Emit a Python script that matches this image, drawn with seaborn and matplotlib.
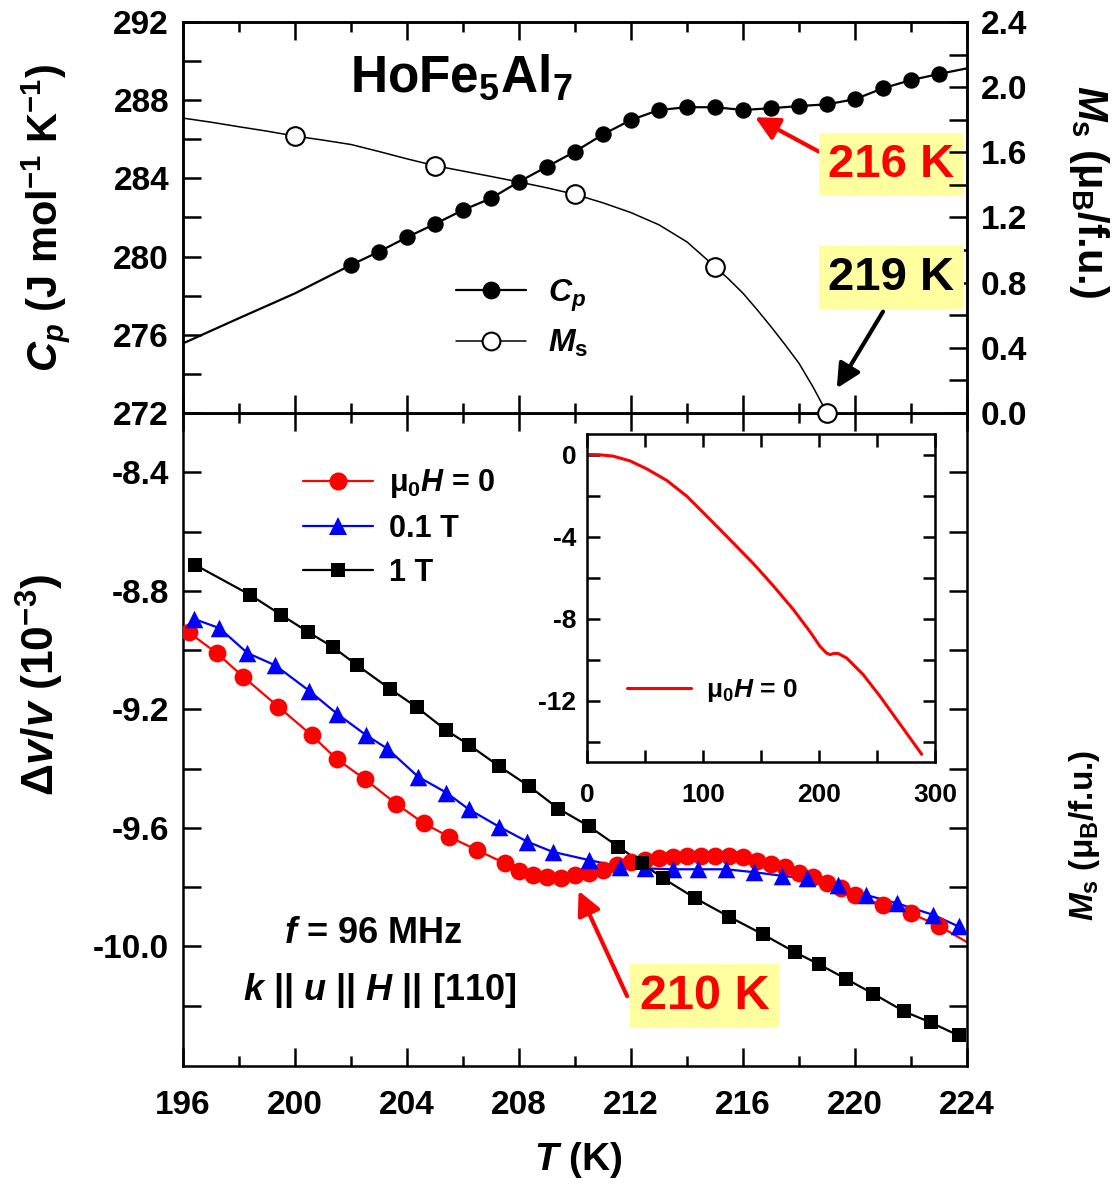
import matplotlib
matplotlib.use("Agg")
import matplotlib.pyplot as plt
import seaborn as sns
from matplotlib.lines import Line2D
from matplotlib.ticker import MultipleLocator, FixedLocator

# ---------------- data ----------------
# top panel: specific heat
cp_T = [202, 203, 204, 205, 206, 207, 208, 209, 210, 211, 212, 213, 214, 215,
        216, 217, 218, 219, 220, 221, 222, 223]
cp_val = [279.57, 280.25, 280.99, 281.67, 282.38, 282.98, 283.83, 284.60, 285.37,
          286.25, 286.99, 287.50, 287.64, 287.64, 287.50, 287.59, 287.70, 287.79,
          288.05, 288.61, 289.03, 289.34]
cp_lead_T = [196, 198, 200]
cp_lead_val = [275.56, 276.85, 278.12]
cp_tail_T = [224]
cp_tail_val = [289.63]

# top panel: saturation magnetisation
ms_T = [200, 205, 210, 215, 219]
ms_val = [1.70, 1.518, 1.342, 0.898, 0.0]
ms_curve_T = [196, 197, 198, 199, 200, 201, 202, 203, 204, 205, 206, 207, 208, 209,
              210, 211, 212, 213, 214, 215, 215.5, 216, 216.5, 217, 217.5, 218,
              218.5, 219]
ms_curve_val = [1.81, 1.785, 1.757, 1.73, 1.70, 1.675, 1.648, 1.605, 1.56, 1.518,
                1.485, 1.452, 1.418, 1.382, 1.342, 1.29, 1.23, 1.155, 1.05, 0.898,
                0.82, 0.735, 0.635, 0.53, 0.42, 0.305, 0.16, 0.0]

# bottom panel: sound velocity
red_T = [196.2, 197.2, 198.15, 199.4, 200.6, 201.5, 202.5, 203.6, 204.6, 205.5,
         206.5, 207.5, 208.0, 208.5, 209.0, 209.5, 210.0, 210.5, 211.0, 211.5,
         212.0, 212.5, 213.0, 213.5, 214.0, 214.5, 215.0, 215.5, 216.0, 216.5,
         217.0, 217.5, 218.0, 218.5, 219.0, 219.5, 220.0, 221.0, 222.0, 223.0]
red_v = [-8.940, -9.010, -9.090, -9.191, -9.288, -9.369, -9.436, -9.518, -9.585,
         -9.630, -9.675, -9.720, -9.746, -9.760, -9.765, -9.768, -9.759, -9.751,
         -9.743, -9.727, -9.717, -9.708, -9.702, -9.698, -9.694, -9.694, -9.694,
         -9.695, -9.700, -9.712, -9.722, -9.734, -9.751, -9.766, -9.788, -9.802,
         -9.828, -9.861, -9.889, -9.931]
red_tail_T = [224]
red_tail_v = [-9.986]

blue_T = [196.39, 197.3, 198.3, 199.3, 200.5, 201.5, 202.55, 203.3, 204.4, 205.4,
          206.2, 207.3, 208.3, 209.2, 210.5, 211.6, 212.5, 213.5, 214.4, 215.4,
          216.4, 217.4, 218.3, 219.4, 220.4, 221.5, 222.8, 223.7]
blue_v = [-8.895, -8.926, -9.010, -9.052, -9.137, -9.215, -9.288, -9.333, -9.428,
          -9.481, -9.537, -9.597, -9.647, -9.681, -9.709, -9.731, -9.737, -9.740,
          -9.740, -9.740, -9.750, -9.762, -9.771, -9.793, -9.827, -9.855, -9.894,
          -9.933]

black_T = [196.43, 198.39, 199.5, 200.48, 201.37, 202.2, 203.39, 204.35, 205.4,
           206.2, 207.3, 208.37, 209.4, 210.5, 211.55, 212.4, 213.15, 214.3, 215.5,
           216.7, 217.86, 218.7, 219.68, 220.65, 221.76, 222.7, 223.7]
black_v = [-8.7125, -8.8135, -8.881, -8.940, -8.991, -9.050, -9.131, -9.193, -9.271,
           -9.319, -9.393, -9.460, -9.535, -9.595, -9.664, -9.720, -9.771, -9.838,
           -9.900, -9.959, -10.020, -10.060, -10.110, -10.160, -10.220, -10.257,
           -10.301]

# inset: full temperature range, zero field
inset_T = [0, 10, 22.4, 36.8, 51.3, 68.5, 85.8, 103, 123.1, 143.2, 160.5, 177.7,
           192.1, 200.8, 206.5, 209.5, 213, 216.6, 223.8, 238.1, 252.5, 266.9,
           281.3, 288.5]
inset_v = [0, -0.01, -0.08, -0.31, -0.70, -1.26, -2.03, -3.00, -4.15, -5.31, -6.40,
           -7.55, -8.63, -9.35, -9.68, -9.75, -9.69, -9.70, -9.92, -10.73, -11.78,
           -12.91, -14.04, -14.61]

x_ticks = [196, 200, 204, 208, 212, 216, 220, 224]
cp_ticks = [272, 276, 280, 284, 288, 292]
ms_ticks = [0.0, 0.4, 0.8, 1.2, 1.6, 2.0, 2.4]
dv_ticks = [-10.0, -9.6, -9.2, -8.8, -8.4]
inset_xticks = [0, 100, 200, 300]
inset_yticks = [0, -4, -8, -12]

# ---------------- style ----------------
sns.set_style("ticks")
plt.rcParams["font.family"] = ["Liberation Sans", "DejaVu Sans"]
plt.rcParams["font.weight"] = "bold"
plt.rcParams["axes.labelweight"] = "bold"
plt.rcParams["axes.unicode_minus"] = False
plt.rcParams["text.color"] = "black"
plt.rcParams["axes.labelcolor"] = "black"
plt.rcParams["axes.edgecolor"] = "black"
plt.rcParams["xtick.color"] = "black"
plt.rcParams["ytick.color"] = "black"
plt.rcParams["mathtext.fontset"] = "custom"
plt.rcParams["mathtext.rm"] = "Liberation Sans:bold"
plt.rcParams["mathtext.it"] = "Liberation Sans:italic:bold"
plt.rcParams["mathtext.bf"] = "Liberation Sans:bold"
plt.rcParams["mathtext.sf"] = "Liberation Sans:bold"

TICK_FS = 24
LW_SPINE = 1.8

fig = plt.figure(figsize=(11.13, 11.85), dpi=100)
L, W = 0.16442, 0.70440
ax_top = fig.add_axes([L, 0.65148, W, 0.32996])
ax_bot = fig.add_axes([L, 0.10042, W, 0.55105])
ax_ms = ax_top.twinx()
ax_in = fig.add_axes([0.52767, 0.35671, 0.31240, 0.27705])

ax_bot.set_zorder(1)
ax_bot.patch.set_alpha(0)
ax_top.set_zorder(2)
ax_ms.set_zorder(3)
ax_in.set_zorder(4)

for a in (ax_top, ax_bot, ax_ms, ax_in):
    for s in a.spines.values():
        s.set_linewidth(LW_SPINE)
        s.set_color("black")

# ---------------- top panel ----------------
sns.lineplot(x=cp_lead_T + cp_T + cp_tail_T, y=cp_lead_val + cp_val + cp_tail_val,
             ax=ax_top, color="black", lw=1.6, estimator=None)
sns.scatterplot(x=cp_T, y=cp_val, ax=ax_top, marker="o", s=140, color="black",
                linewidth=0, zorder=5)

sns.lineplot(x=ms_curve_T, y=ms_curve_val, ax=ax_ms, color="black", lw=1.1,
             estimator=None)
sns.scatterplot(x=ms_T, y=ms_val, ax=ax_ms, marker="o", s=180, facecolor="white",
                edgecolor="black", linewidth=1.5, clip_on=False, zorder=10)

ax_top.set_xlim(196, 224)
ax_top.set_ylim(272, 292)
ax_ms.set_ylim(0, 2.4)
ax_top.xaxis.set_major_locator(FixedLocator(x_ticks))
ax_top.xaxis.set_minor_locator(MultipleLocator(2))
ax_top.yaxis.set_major_locator(FixedLocator(cp_ticks))
ax_top.yaxis.set_minor_locator(MultipleLocator(2))
ax_ms.yaxis.set_major_locator(FixedLocator(ms_ticks))
ax_ms.yaxis.set_minor_locator(MultipleLocator(0.2))
ax_top.set_yticklabels([f"{v:d}" for v in cp_ticks])
ax_ms.set_yticklabels([f"{v:.1f}" for v in ms_ticks])

ax_top.tick_params(axis="x", which="both", direction="in", top=True, bottom=True,
                   labelbottom=False, width=LW_SPINE)
ax_top.tick_params(axis="x", which="major", length=13)
ax_top.tick_params(axis="x", which="minor", length=7)
ax_top.tick_params(axis="y", which="both", direction="in", left=True, right=False,
                   length=13, width=LW_SPINE, labelsize=TICK_FS, pad=10)
ax_ms.tick_params(axis="y", which="both", direction="in", right=True, left=False,
                  length=13, width=LW_SPINE, labelsize=TICK_FS, pad=10)

ax_top.set_xlabel("")
ax_top.set_ylabel(r"$C_p$ (J mol$^{-1}$ K$^{-1}$)", fontsize=30, va="center")
ax_top.yaxis.set_label_coords(-0.175, 0.5)
ax_ms.set_ylabel(r"$M_\mathrm{s}$ (μ$_\mathrm{B}$/f.u.)", fontsize=30, rotation=270,
                 va="center", ha="center")
ax_ms.yaxis.set_label_coords(1.155, 0.565)

ax_top.text(0.213, 0.821, r"HoFe$_\mathbf{5}$Al$_\mathbf{7}$", transform=ax_top.transAxes,
            fontsize=37, ha="left", va="baseline")

top_handles = [
    Line2D([], [], color="black", lw=1.6, marker="o", markersize=11.8,
           markerfacecolor="black", markeredgecolor="black"),
    Line2D([], [], color="black", lw=1.1, marker="o", markersize=12.8,
           markerfacecolor="white", markeredgecolor="black", markeredgewidth=1.5),
]
ax_ms.legend(top_handles, [r"$C_p$", r"$M_\mathrm{s}$"], loc="upper left",
             bbox_to_anchor=(0.348, 0.347), frameon=False, fontsize=23,
             handlelength=2.2, handletextpad=0.7, labelspacing=0.45,
             borderaxespad=0, borderpad=0)

box = dict(boxstyle="square,pad=0.2", fc="#FFFFA0", ec="none")
arrow_style = "-|>,head_length=0.9,head_width=0.45"
ax_top.annotate("", xy=(216.43, 287.13), xytext=(218.71, 285.37),
                arrowprops=dict(arrowstyle=arrow_style, color="red", lw=3,
                                mutation_scale=16, shrinkA=0, shrinkB=0))
ax_top.text(221.29, 284.69, "216 K", color="red", fontsize=34, ha="center",
            va="center", bbox=box)
ax_ms.annotate("", xy=(219.35, 0.152), xytext=(221.0, 0.622),
               arrowprops=dict(arrowstyle=arrow_style, color="black", lw=3,
                               mutation_scale=16, shrinkA=0, shrinkB=0))
ax_ms.text(221.29, 0.829, "219 K", color="black", fontsize=34, ha="center",
           va="center", bbox=box)

# ---------------- bottom panel ----------------
sns.lineplot(x=red_T + red_tail_T, y=red_v + red_tail_v, ax=ax_bot, color="red",
             lw=1.6, estimator=None)
sns.lineplot(x=blue_T, y=blue_v, ax=ax_bot, color="blue", lw=1.6, estimator=None)
sns.lineplot(x=black_T, y=black_v, ax=ax_bot, color="black", lw=1.6, estimator=None)
sns.scatterplot(x=red_T, y=red_v, ax=ax_bot, marker="o", s=165, color="red",
                linewidth=0, zorder=5)
sns.scatterplot(x=blue_T, y=blue_v, ax=ax_bot, marker="^", s=160, color="blue",
                linewidth=0, zorder=6)
sns.scatterplot(x=black_T, y=black_v, ax=ax_bot, marker="s", s=105, color="black",
                linewidth=0, zorder=7, clip_on=False)

ax_bot.set_xlim(196, 224)
ax_bot.set_ylim(-10.404, -8.2)
ax_bot.xaxis.set_major_locator(FixedLocator(x_ticks))
ax_bot.xaxis.set_minor_locator(MultipleLocator(2))
ax_bot.yaxis.set_major_locator(FixedLocator(dv_ticks))
ax_bot.yaxis.set_minor_locator(FixedLocator([-10.2, -9.8, -9.4, -9.0, -8.6]))
ax_bot.set_xticklabels([str(v) for v in x_ticks])
ax_bot.set_yticklabels([f"{v:.1f}" for v in dv_ticks])
ax_bot.tick_params(axis="x", which="both", direction="in", top=True, bottom=True,
                   width=LW_SPINE, labelsize=TICK_FS, pad=17)
ax_bot.tick_params(axis="x", which="major", length=13)
ax_bot.tick_params(axis="x", which="minor", length=7)
ax_bot.tick_params(axis="y", which="both", direction="in", left=True, right=True,
                   length=13, width=LW_SPINE, labelsize=TICK_FS, pad=10)

ax_bot.set_xlabel(r"$T$ (K)", fontsize=28, va="center")
ax_bot.xaxis.set_label_coords(0.504, -0.144)
ax_bot.set_ylabel(r"$\mathit{\Delta}v/v$ (10$^{-3}$)", fontsize=32, va="center")
ax_bot.yaxis.set_label_coords(-0.182, 0.583)

bot_handles = [
    Line2D([], [], color="red", lw=1.6, marker="o", markersize=13, markeredgewidth=0),
    Line2D([], [], color="blue", lw=1.6, marker="^", markersize=13, markeredgewidth=0),
    Line2D([], [], color="black", lw=1.6, marker="s", markersize=10.5, markeredgewidth=0),
]
ax_bot.legend(bot_handles, [r"μ$_0$$H$ = 0", "0.1 T", "1 T"], loc="upper left",
              bbox_to_anchor=(0.153, 0.917), frameon=False, fontsize=22,
              handlelength=2.3, handletextpad=0.5, labelspacing=0.45,
              borderaxespad=0, borderpad=0)

ax_bot.text(0.2423, 0.188, r"$f$ = 96 MHz", transform=ax_bot.transAxes,
            fontsize=26, ha="center", va="baseline")
ax_bot.text(0.251, 0.101, r"$k$ || $u$ || $H$ || [110]", transform=ax_bot.transAxes,
            fontsize=26, ha="center", va="baseline")

ax_bot.annotate("", xy=(210.13, -9.813), xytext=(211.86, -10.168),
                arrowprops=dict(arrowstyle=arrow_style, color="red", lw=3,
                                mutation_scale=16, shrinkA=0, shrinkB=0))
ax_bot.text(214.64, -10.168, "210 K", color="red", fontsize=35, ha="center",
            va="center", bbox=box)

fig.text(1085 / 1113, 1 - 835 / 1185, r"$M_\mathrm{s}$ (μ$_\mathrm{B}$/f.u.)",
         rotation=90, fontsize=24, ha="center", va="center")

# ---------------- inset ----------------
sns.lineplot(x=inset_T, y=inset_v, ax=ax_in, color="red", lw=2.2, estimator=None)
ax_in.set_xlim(0, 300)
ax_in.set_ylim(-15, 1)
ax_in.xaxis.set_major_locator(FixedLocator(inset_xticks))
ax_in.xaxis.set_minor_locator(FixedLocator([50, 150, 250]))
ax_in.yaxis.set_major_locator(FixedLocator(inset_yticks))
ax_in.yaxis.set_minor_locator(FixedLocator([-2, -6, -10, -14]))
ax_in.set_xticklabels([str(v) for v in inset_xticks])
ax_in.set_yticklabels([str(v) for v in inset_yticks])
ax_in.tick_params(axis="both", which="both", direction="in", top=True, right=True,
                  length=9, width=LW_SPINE, labelsize=19)
ax_in.tick_params(axis="x", which="major", pad=15)
ax_in.tick_params(axis="y", which="major", pad=8)
ax_in.set_xlabel("")
ax_in.set_ylabel("")
ax_in.legend([Line2D([], [], color="red", lw=2.2)], [r"μ$_0$$H$ = 0"],
             loc="center left", bbox_to_anchor=(0.115, 0.218), frameon=False,
             fontsize=19, handlelength=2.4, handletextpad=0.6,
             borderaxespad=0, borderpad=0)

fig.savefig("out.png", dpi=100)
